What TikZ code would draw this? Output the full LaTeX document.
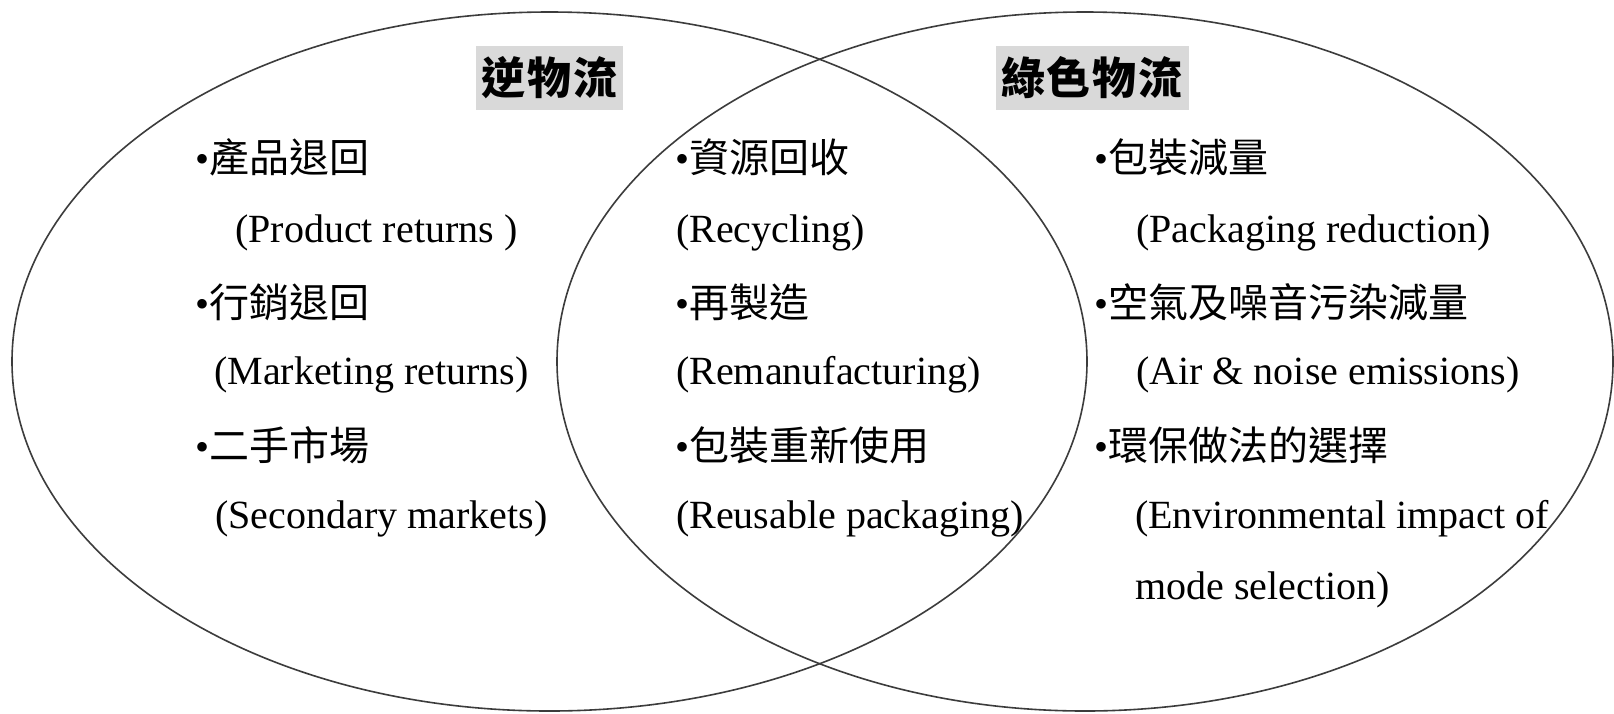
\documentclass[tikz,border=0pt]{standalone}
\usepackage{fontspec}
\setmainfont{Liberation Serif}
\newfontfamily\cjk{Noto Sans CJK TC}
\definecolor{titlegray}{RGB}{217,217,217}
\definecolor{linegray}{RGB}{60,60,60}
\newcommand{\bul}{{\rmfamily\char"2022}}
\tikzset{
  en/.style={anchor=base west, inner sep=0pt, font=\fontsize{40}{48}\selectfont},
  zh/.style={anchor=base west, inner sep=0pt, font=\fontsize{40}{48}\selectfont\cjk},
  titlebox/.style={fill=titlegray, inner xsep=5.5pt, inner ysep=0pt, minimum height=64pt, font=\fontsize{44}{50}\selectfont\cjk\bfseries},
  venn/.style={draw=linegray, line width=1.6pt},
}
\begin{document}
\begin{tikzpicture}[x=1pt,y=-1pt]
\useasboundingbox (0,0) rectangle (1614,713);
\fill[white] (0,0) rectangle (1614,713);
\draw[venn] (549.5,361.5) ellipse [x radius=537.5pt, y radius=349.5pt];
\draw[venn] (1085,361.5) ellipse [x radius=528pt, y radius=349.5pt];
\node[titlebox] (t1) at (549.5,78) {逆\hspace{2pt}物\hspace{2pt}流};
\node[titlebox] (t2) at (1092,78) {綠\hspace{2pt}色\hspace{2pt}物\hspace{2pt}流};
% left column
\node[zh] (l1) at (195,172) {\bul 產品退回};
\node[en] (l2) at (235,242) {(Product returns )};
\node[zh] (l3) at (195,317) {\bul 行銷退回};
\node[en] (l4) at (214,384) {(Marketing returns)};
\node[zh] (l5) at (195,460) {\bul 二手市場};
\node[en] (l6) at (215,528) {(Secondary markets)};
% middle column
\node[zh] (m1) at (675,172) {\bul 資源回收};
\node[en] (m2) at (676,242) {(Recycling)};
\node[zh] (m3) at (675,317) {\bul 再製造};
\node[en] (m4) at (676,384) {(Remanufacturing)};
\node[zh] (m5) at (675,460) {\bul 包裝重新使用};
\node[en] (m6) at (676,528) {(Reusable packaging)};
% right column
\node[zh] (r1) at (1094,172) {\bul 包裝減量};
\node[en] (r2) at (1136,242) {(Packaging reduction)};
\node[zh] (r3) at (1094,317) {\bul 空氣及噪音污染減量};
\node[en] (r4) at (1136,384) {(Air \& noise emissions)};
\node[zh] (r5) at (1094,460) {\bul 環保做法的選擇};
\node[en] (r6) at (1135,528) {(Environmental impact of};
\node[en] (r7) at (1135,599) {mode selection)};
\end{tikzpicture}
\end{document}
